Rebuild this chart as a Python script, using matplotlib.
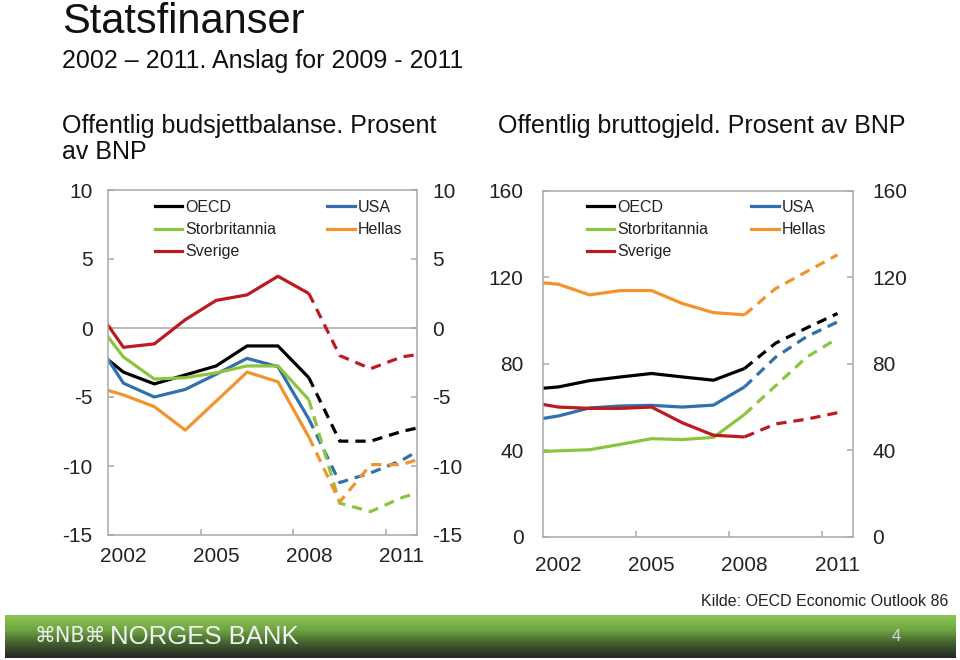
import numpy as np
import matplotlib
matplotlib.use("Agg")
import matplotlib.pyplot as plt
from matplotlib.colors import LinearSegmentedColormap
from matplotlib.lines import Line2D

plt.rcParams['font.family'] = ['Liberation Sans', 'DejaVu Sans']

# ---------------- data ----------------
series_names = ["OECD", "USA", "Storbritannia", "Hellas", "Sverige"]
series_colors = ["#000000", "#2f70ad", "#8dc43f", "#f2932c", "#bd1a1f"]

# Budget balance, percent of GDP
bal_years = [2001, 2002, 2003, 2004, 2005, 2006, 2007, 2008, 2009, 2010, 2011, 2012]
bal_oecd = [-1.4, -3.2, -4.05, -3.4, -2.75, -1.3, -1.3, -3.6, -8.2, -8.2, -7.5, -7.0]
bal_usa = [-0.55, -4.0, -5.0, -4.45, -3.35, -2.2, -2.8, -6.6, -11.2, -10.5, -9.6, -8.3]
bal_uk = [0.8, -2.1, -3.7, -3.6, -3.25, -2.75, -2.75, -5.2, -12.7, -13.3, -12.3, -11.6]
bal_hellas = [-4.2, -4.85, -5.7, -7.4, -5.3, -3.2, -3.9, -7.9, -12.6, -9.9, -9.9, -9.2]
bal_sverige = [1.8, -1.4, -1.15, 0.6, 2.0, 2.4, 3.75, 2.5, -2.0, -2.95, -2.1, -1.75]

# Gross debt, percent of GDP
debt_years = [2001, 2002, 2003, 2004, 2005, 2006, 2007, 2008, 2009, 2010, 2011]
debt_oecd = [68.1, 69.3, 72.2, 73.9, 75.5, 73.9, 72.4, 77.8, 89.5, 96.5, 103.2]
debt_usa = [53.6, 55.9, 59.6, 60.5, 60.8, 60.0, 60.9, 69.3, 83.0, 92.5, 99.3]
debt_uk = [39.2, 39.8, 40.3, 42.8, 45.4, 45.0, 46.0, 56.6, 69.8, 83.0, 91.7]
debt_hellas = [118.1, 116.7, 111.8, 113.8, 113.8, 107.8, 103.6, 102.6, 114.7, 122.5, 130.3]
debt_sverige = [62.4, 60.0, 59.4, 59.4, 60.0, 52.7, 47.0, 46.2, 52.2, 54.4, 57.4]

last_actual = 2008
tick_years = [2002, 2005, 2008, 2011]
bal_ticks = [-15, -10, -5, 0, 5, 10]
debt_ticks = [0, 40, 80, 120, 160]

title = "Statsfinanser"
subtitle = "2002 \u2013 2011. Anslag for 2009 - 2011"
left_title = "Offentlig budsjettbalanse. Prosent\nav BNP"
right_title = "Offentlig bruttogjeld. Prosent av BNP"
source = "Kilde: OECD Economic Outlook 86"

# ---------------- figure ----------------
W, H = 960, 660
fig = plt.figure(figsize=(W / 100, H / 100), dpi=100)
fig.patch.set_facecolor("white")

GRAY = "#a8a8a8"
LW = 2.3
DASH = (0, (3.2, 2.2))


def fx(px):
    return px / W


def fy(py):
    return 1 - py / H


def style_axes(ax, ylim, yticks, xpad, ypad):
    ax.set_xlim(2001.5, 2011.5)
    ax.set_ylim(*ylim)
    ax.set_yticks(yticks)
    ax.set_yticklabels([str(t) for t in yticks])
    ax.set_xticks(tick_years)
    ax.set_xticklabels([str(t) for t in tick_years])
    ax.set_xticks([2004.5, 2007.5, 2010.5], minor=True)
    for s in ax.spines.values():
        s.set_color(GRAY)
        s.set_linewidth(1.1)
    ax.tick_params(axis='x', which='major', length=0, pad=xpad, labelsize=15, colors='#222222')
    ax.tick_params(axis='x', which='minor', length=4.5, direction='in', color=GRAY, width=1.1)
    ax.tick_params(axis='y', which='major', length=4, direction='in', color=GRAY, width=1.1,
                   left=True, right=True, labelleft=True, labelright=True, labelsize=15,
                   labelcolor='#222222', pad=ypad)


def plot_panel(ax, years, data):
    years = np.array(years)
    solid = years <= last_actual
    dashed = years >= last_actual
    handles = []
    for name, col, vals in zip(series_names, series_colors, data):
        vals = np.array(vals)
        ax.plot(years[solid], vals[solid], color=col, lw=LW, solid_capstyle='butt', clip_on=True)
        ax.plot(years[dashed], vals[dashed], color=col, lw=LW, linestyle=DASH,
                dash_capstyle='butt', clip_on=True)
        handles.append(Line2D([], [], color=col, lw=LW))
    return handles


def add_legend(ax, handles, x0, y0, colsp):
    order = [0, 2, 4, 1, 3]  # row-major order in 2 columns
    leg = ax.legend([handles[i] for i in order], [series_names[i] for i in order], ncol=2,
                    loc='upper left', bbox_to_anchor=(x0, y0), frameon=False,
                    fontsize=11.5, handlelength=1.7, handletextpad=0.2,
                    columnspacing=colsp, labelspacing=0.45, borderpad=0, borderaxespad=0)
    for t in leg.get_texts():
        t.set_color('#222222')


# Left panel: budget balance
axL = fig.add_axes([fx(108), fy(535), fx(309), 345 / H])
hL = plot_panel(axL, bal_years, [bal_oecd, bal_usa, bal_uk, bal_hellas, bal_sverige])
axL.axhline(0, color=GRAY, lw=1.1, zorder=0)
style_axes(axL, (-15, 10), bal_ticks, 9, 11)
add_legend(axL, hL, (155 - 108) / 309, (535 - 200) / 345, 3.2)

# Right panel: gross debt
axR = fig.add_axes([fx(543), fy(537), fx(310), 346.5 / H])
hR = plot_panel(axR, debt_years, [debt_oecd, debt_usa, debt_uk, debt_hellas, debt_sverige])
style_axes(axR, (0, 160), debt_ticks, 14, 14)
add_legend(axR, hR, (587 - 543) / 310, (537 - 200) / 346.5, 2.7)

# ---------------- texts ----------------
fig.text(fx(62), fy(33), title, fontsize=30, va='baseline', ha='left', color='#111111')
fig.text(fx(62), fy(68), subtitle, fontsize=18, va='baseline', ha='left', color='#111111')
fig.text(fx(62), fy(114), left_title, fontsize=18, va='top', ha='left', color='#111111',
         linespacing=1.08)
fig.text(fx(498), fy(114), right_title, fontsize=18, va='top', ha='left', color='#111111')
fig.text(fx(948), fy(601), source, fontsize=11.5, va='center', ha='right', color='#222222')

# ---------------- footer bar ----------------
axB = fig.add_axes([fx(5), fy(658), fx(950), 43 / H])
cmap = LinearSegmentedColormap.from_list(
    "nb", [(0.0, "#8cc652"), (0.35, "#6ea443"), (0.65, "#43622f"), (1.0, "#252525")])
grad = np.linspace(0, 1, 200).reshape(-1, 1)
axB.imshow(grad, aspect='auto', cmap=cmap, extent=(0, 1, 0, 1), origin='upper')
axB.set_axis_off()
axB.text(0.031, 0.5, "\u2318NB\u2318", transform=axB.transAxes, fontsize=15, color='#eeeeee',
         va='center', ha='left', family=['DejaVu Sans'])
axB.text(0.111, 0.5, "NORGES BANK", transform=axB.transAxes, fontsize=18.5, color='#f2f2f2',
         va='center', ha='left')
axB.text(0.938, 0.5, "4", transform=axB.transAxes, fontsize=12, color='#d8d8d8',
         va='center', ha='center')

fig.savefig("out.png", dpi=100, facecolor='white')
